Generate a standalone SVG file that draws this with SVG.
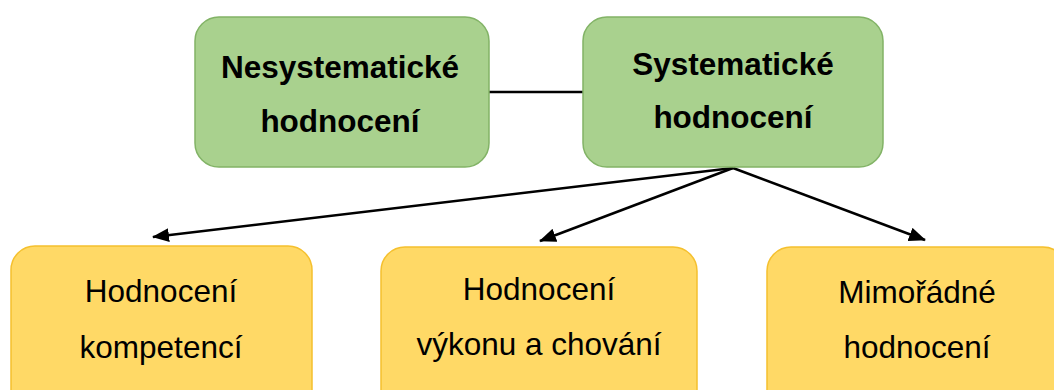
<svg xmlns="http://www.w3.org/2000/svg" width="1054" height="390" viewBox="0 0 1054 390">
  <defs>
    <marker id="arrow" markerUnits="userSpaceOnUse" markerWidth="18" markerHeight="14" refX="16" refY="7" orient="auto">
      <path d="M0,0 L17,7 L0,14 Z" fill="#000"/>
    </marker>
    <style>
      .green { fill: #A9D18E; stroke: #82B366; stroke-width: 1.5; }
      .yellow { fill: #FFD966; stroke: #F5C02E; stroke-width: 1.5; }
      .bold { font-family: "Liberation Sans", Arial, sans-serif; font-size: 31.5px; font-weight: bold; fill: #000; text-anchor: middle; }
      .reg { font-family: "Liberation Sans", Arial, sans-serif; font-size: 31.5px; fill: #000; text-anchor: middle; }
      .link { stroke: #000; stroke-width: 2.5; fill: none; }
    </style>
  </defs>
  <rect width="1054" height="390" fill="#fff"/>

  <!-- connectors -->
  <g id="connectors">
    <line class="link" x1="489" y1="92" x2="583" y2="92"/>
    <line class="link" x1="733" y1="168" x2="153" y2="237" marker-end="url(#arrow)"/>
    <line class="link" x1="733" y1="168" x2="540" y2="241" marker-end="url(#arrow)"/>
    <line class="link" x1="733" y1="168" x2="925" y2="240" marker-end="url(#arrow)"/>
  </g>

  <!-- top row -->
  <g id="node-nesystematicke">
    <rect class="green" x="195" y="17" width="294" height="150" rx="24"/>
    <text class="bold" x="340" y="78">Nesystematické</text>
    <text class="bold" x="340" y="132">hodnocení</text>
  </g>
  <g id="node-systematicke">
    <rect class="green" x="583" y="17" width="300" height="150" rx="24"/>
    <text class="bold" x="733" y="75">Systematické</text>
    <text class="bold" x="733" y="128">hodnocení</text>
  </g>

  <!-- bottom row -->
  <g id="node-kompetence">
    <rect class="yellow" x="11" y="246" width="301" height="170" rx="24"/>
    <text class="reg" x="161" y="302">Hodnocení</text>
    <text class="reg" x="161" y="358">kompetencí</text>
  </g>
  <g id="node-vykon">
    <rect class="yellow" x="381" y="247" width="316" height="170" rx="24"/>
    <text class="reg" x="539" y="300">Hodnocení</text>
    <text class="reg" x="539" y="355">výkonu a chování</text>
  </g>
  <g id="node-mimoradne">
    <rect class="yellow" x="767" y="247" width="300" height="170" rx="24"/>
    <text class="reg" x="917" y="303">Mimořádné</text>
    <text class="reg" x="917" y="358">hodnocení</text>
  </g>
</svg>
